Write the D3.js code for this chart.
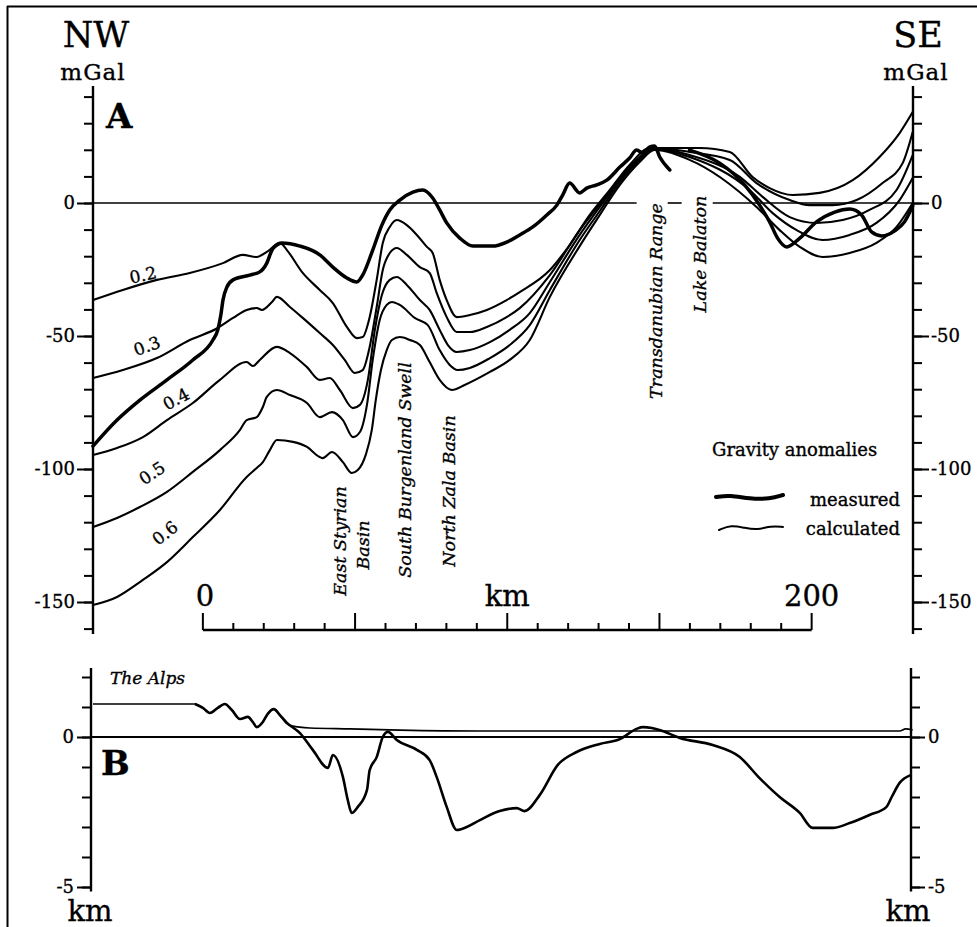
<!DOCTYPE html>
<html><head><meta charset="utf-8">
<script src="https://cdn.jsdelivr.net/npm/d3@7"></script>
<style>
body{margin:0;background:#fff}
svg{display:block}
text{font-family:"DejaVu Serif","Liberation Serif",serif;fill:#000;stroke:#000;stroke-width:0.35px}
</style>
</head><body>
<svg id="c" width="977" height="927"></svg>
<script>
// ---------- DATA (distance km along profile, anomaly mGal / depth km) ----------
const measuredNW = [[-36.1,-91.4],[-28.2,-81.6],[-20.7,-74.1],[-11.8,-66.5],[-3.3,-59.0],[3.3,-51.5],[4.9,-47.7],[5.9,-42.1],[6.6,-36.5],[7.9,-31.6],[9.9,-28.9],[15.4,-27.1],[18.7,-25.9],[21.0,-22.6],[22.7,-17.7],[24.3,-15.8],[25.9,-15.0],[31.9,-16.2],[38.4,-19.5],[42.7,-24.1],[47.3,-28.2],[50.6,-29.7],[52.5,-27.1],[55.8,-17.7],[58.8,-8.3],[61.4,-2.6],[64.7,1.1],[69.0,4.1],[72.2,4.9],[75.5,1.9],[77.8,-2.6],[80.1,-7.5],[84.4,-13.2],[88.7,-16.2],[95.2,-16.2],[99.8,-14.7],[104.1,-12.0],[108.4,-9.0],[113.0,-4.5],[116.3,-0.8],[118.2,3.0],[120.5,7.5],[123.8,3.8],[126.1,5.6],[129.4,6.8],[132.7,8.6],[137.0,13.5],[140.2,16.9],[142.5,19.9],[144.5,18.8],[146.8,21.1],[148.4,21.4],[150.1,17.3],[153.4,12.4]];
const measuredSE = [[159.9,19.9],[169.8,15.0],[178.0,6.8],[182.9,-0.8],[186.2,-7.1],[188.8,-13.2],[191.8,-16.5],[196.1,-13.2],[201.6,-7.1],[207.6,-3.4],[212.5,-2.3],[216.4,-4.5],[219.7,-10.9],[223.0,-12.4],[227.3,-10.5],[230.5,-7.1],[233.2,-1.1]];
const calc02 = [[-36.1,-36.5],[-26.3,-32.7],[-15.1,-28.9],[-4.3,-26.3],[6.6,-22.6],[13.1,-19.5],[17.7,-20.3],[21.0,-18.4],[25.3,-15.0],[27.6,-17.7],[32.8,-26.3],[38.4,-32.7],[42.7,-37.6],[47.3,-46.6],[50.6,-50.8],[52.5,-50.4],[54.8,-42.9],[57.1,-28.9],[59.1,-15.0],[61.4,-9.0],[63.7,-6.4],[67.0,-8.3],[70.3,-12.0],[73.6,-16.5],[75.5,-18.8],[77.8,-28.9],[80.1,-36.5],[83.4,-42.9],[87.7,-42.1],[93.3,-40.2],[99.8,-36.5],[104.1,-33.5],[114.0,-25.2],[120.5,-15.8],[127.1,-4.5],[133.7,4.9],[140.2,14.3],[146.8,20.7],[163.1,20.7],[173.1,19.2],[180.6,9.8],[186.2,5.6],[193.8,3.0],[202.6,3.8],[213.5,8.6],[222.3,17.3],[228.9,26.3],[233.2,34.2]];
const calc03 = [[-36.1,-65.8],[-26.3,-62.8],[-15.1,-58.3],[-4.3,-51.5],[4.9,-47.0],[9.9,-43.2],[14.4,-40.2],[17.7,-39.5],[19.4,-40.2],[22.7,-37.2],[24.3,-35.3],[28.6,-39.1],[32.8,-43.2],[38.4,-48.9],[42.7,-53.4],[46.6,-59.0],[49.9,-63.9],[52.5,-62.8],[54.8,-54.1],[57.1,-39.1],[59.1,-25.2],[61.4,-18.8],[63.7,-16.9],[67.0,-19.5],[71.3,-24.1],[74.5,-26.3],[76.8,-33.8],[80.1,-42.9],[83.4,-48.5],[87.7,-48.5],[93.3,-46.6],[99.8,-42.9],[104.1,-39.5],[114.0,-27.1],[123.8,-10.2],[130.4,-0.4],[137.0,9.4],[143.5,17.3],[148.4,20.7],[159.9,19.2],[173.1,16.2],[181.9,7.5],[192.8,1.1],[199.3,-0.8],[206.9,-0.8],[214.8,1.1],[223.3,7.5],[229.9,15.0],[233.2,26.7]];
const calc04 = [[-36.1,-94.7],[-28.2,-92.1],[-19.7,-88.0],[-11.8,-81.6],[-3.3,-75.2],[5.6,-66.5],[14.4,-59.8],[16.4,-61.3],[18.7,-59.0],[24.3,-54.1],[28.6,-56.4],[34.2,-61.7],[38.4,-66.5],[41.7,-65.8],[45.0,-70.3],[49.3,-77.1],[51.6,-75.9],[54.2,-66.5],[56.5,-47.7],[58.8,-34.6],[61.4,-28.9],[63.7,-27.8],[67.0,-30.8],[71.3,-36.5],[74.5,-40.2],[77.8,-47.7],[80.5,-53.4],[83.4,-56.0],[87.7,-55.3],[94.3,-52.3],[100.8,-47.7],[107.4,-41.4],[114.0,-29.7],[123.8,-12.0],[130.4,-1.5],[137.0,8.6],[143.5,16.9],[148.4,20.7],[159.9,18.0],[176.4,9.8],[183.9,2.3],[192.8,-5.3],[201.6,-7.5],[210.2,-6.4],[219.0,-2.6],[227.9,4.9],[233.2,18.0]];
const calc05 = [[-36.1,-121.8],[-28.2,-118.4],[-20.7,-114.3],[-11.8,-108.6],[-3.3,-101.1],[5.6,-92.9],[12.2,-85.3],[14.4,-81.6],[17.7,-80.5],[19.7,-76.7],[21.0,-72.9],[24.3,-70.3],[28.6,-72.2],[34.2,-75.2],[38.4,-80.5],[42.4,-78.6],[46.0,-81.6],[49.3,-88.0],[51.6,-86.1],[53.9,-75.9],[55.8,-59.0],[58.1,-44.0],[60.4,-38.3],[62.1,-37.2],[64.7,-38.3],[69.6,-43.2],[73.9,-45.9],[77.8,-55.3],[81.1,-60.9],[83.7,-62.8],[87.7,-62.0],[94.3,-58.3],[100.8,-53.4],[107.4,-45.9],[114.0,-32.7],[123.8,-13.9],[130.4,-3.0],[137.0,7.9],[143.5,16.2],[148.4,20.3],[159.9,17.3],[179.6,4.9],[187.2,-3.8],[195.1,-10.2],[203.6,-13.9],[212.5,-12.0],[221.3,-7.5],[228.9,1.1],[233.2,9.4]];
const calc06 = [[-36.1,-151.1],[-28.2,-148.1],[-19.7,-141.7],[-11.8,-135.0],[-3.3,-125.6],[5.6,-115.4],[14.4,-103.0],[17.7,-99.6],[19.7,-97.4],[22.0,-92.9],[24.3,-89.1],[29.6,-89.8],[34.2,-91.7],[38.4,-95.5],[39.4,-95.9],[42.4,-93.6],[46.0,-97.4],[48.9,-101.5],[50.9,-100.4],[53.5,-94.7],[55.5,-85.3],[56.8,-74.1],[58.5,-62.8],[60.4,-55.3],[62.1,-51.5],[64.7,-50.4],[68.0,-51.5],[71.3,-53.4],[74.5,-59.8],[77.8,-66.5],[81.8,-70.3],[86.0,-68.4],[94.3,-63.5],[100.8,-59.0],[107.4,-51.5],[114.0,-35.3],[123.8,-16.2],[130.4,-4.5],[137.0,6.8],[143.5,15.4],[148.4,19.9],[159.9,16.2],[181.9,-1.5],[189.5,-10.2],[196.1,-16.5],[203.6,-20.3],[212.5,-18.8],[221.3,-15.0],[227.9,-9.0],[233.2,0]];
const densityLabels = ["0.2","0.3","0.4","0.5","0.6"];
const zeroLineSegmentsA = [[-36.1,142.5],[152.7,157.3],[167.5,233.2]];
const mGalMajorTicks = [0,-50,-100,-150];
const mGalMinorTicks = [40,30,20,10,0,-10,-20,-30,-40,-50,-60,-70,-80,-90,-100,-110,-120,-130,-140,-150,-160];
const scaleBarTicks = [0,10,20,30,40,50,60,70,80,90,100,110,120,130,140,150,160,170,180,190,200];
const scaleBarMajor = [0,50,100,150,200];
const scaleBarLabels = [[0,"0"],[100,"km"],[200,"200"]];
const topography = [[-36.1,1.10],[-2.6,1.10],[0,0.97],[2.3,0.80],[4.9,0.97],[7.2,1.10],[9.5,0.90],[12.2,0.60],[14.8,0.67],[16.4,0.50],[17.7,0.33],[19.7,0.50],[21.3,0.77],[23.3,0.93],[25.3,0.73],[27.3,0.47],[29.2,0.37],[35.1,0.30],[48.3,0.27],[64.7,0.23],[91.0,0.20],[130.4,0.20],[163.1,0.20],[196.1,0.20],[228.9,0.20],[230.9,0.27],[233.2,0.23]];
const basement = [[-2.6,1.10],[0,0.97],[2.3,0.80],[4.9,0.97],[7.2,1.10],[9.5,0.90],[12.2,0.60],[14.8,0.67],[16.4,0.50],[17.7,0.33],[19.7,0.50],[21.3,0.77],[23.3,0.93],[25.3,0.73],[27.6,0.47],[31.9,0.13],[36.1,-0.43],[41.1,-1.03],[42.7,-0.60],[46.0,-1.33],[47.6,-2.10],[48.9,-2.53],[50.9,-2.33],[53.9,-1.77],[54.8,-1.10],[57.1,-0.67],[59.1,0],[60.8,0.17],[63.7,-0.10],[70.3,-0.43],[74.5,-0.77],[76.8,-1.33],[80.1,-2.33],[83.4,-3.10],[86.7,-3.00],[91.0,-2.77],[97.5,-2.47],[103.1,-2.37],[105.7,-2.47],[110.7,-1.93],[116.6,-0.93],[122.8,-0.50],[130.4,-0.23],[137.0,-0.07],[142.5,0.27],[144.5,0.33],[147.5,0.30],[150.1,0.23],[156.7,-0.03],[167.5,-0.27],[176.4,-0.67],[182.9,-1.37],[189.5,-2.00],[196.1,-2.53],[200.3,-3.03],[206.9,-3.03],[212.5,-2.87],[219.0,-2.60],[224.6,-2.33],[226.3,-2.00],[228.9,-1.53],[232.5,-1.27]];
const depthMajorTicks = [0,-5];
const depthMinorTicks = [2,1,0,-1,-2,-3,-4,-5];
const placeLabels = ["East Styrian","Basin","South Burgenland Swell","North Zala Basin","Transdanubian Range","Lake Balaton"];
const legendLabels = ["Gravity anomalies","measured","calculated"];

// ---------- SCALES ----------
const svg = d3.select("#c");
const x = d3.scaleLinear().domain([-36.1, 233.3]).range([93, 913]);
const yA = d3.scaleLinear().domain([0, -150]).range([203, 602]);
const yB = d3.scaleLinear().domain([0, -5]).range([737, 887]);
const xL = x.range()[0], xR = x.range()[1];

// frame
svg.append("line").attr("x1",7).attr("x2",977).attr("y1",6.5).attr("y2",6.5).attr("stroke","#000").attr("stroke-width",2);
svg.append("line").attr("x1",7.5).attr("x2",7.5).attr("y1",6).attr("y2",927).attr("stroke","#000").attr("stroke-width",2);

// ---------- PANEL A AXES ----------
function styleAxis(g){ g.select(".domain").remove(); g.selectAll("line").attr("stroke","#000").attr("stroke-width",2); g.selectAll("text").attr("font-family","DejaVu Serif, serif").attr("font-size",18).attr("fill","#000"); }
const fmt = d => d < 0 ? "-" + Math.abs(d) : String(d);

[[d3.axisLeft, xL],[d3.axisRight, xR]].forEach(([ax, xp]) => {
  svg.append("g").attr("transform",`translate(${xp},0)`)
    .call(ax(yA).tickValues(mGalMinorTicks).tickSize(9).tickFormat(""))
    .call(styleAxis);
  svg.append("g").attr("transform",`translate(${xp},0)`)
    .call(ax(yA).tickValues(mGalMajorTicks).tickSize(16).tickPadding(2).tickFormat(fmt))
    .call(styleAxis);
  svg.append("line").attr("x1",xp).attr("x2",xp).attr("y1",yA(44)).attr("y2",yA(-162)).attr("stroke","#000").attr("stroke-width",2.4);
});

// zero line A
zeroLineSegmentsA.forEach(s => svg.append("line").attr("x1",x(s[0])).attr("x2",x(s[1])).attr("y1",yA(0)).attr("y2",yA(0)).attr("stroke","#000").attr("stroke-width",1.6));

// ---------- PANEL A CURVES ----------
const lineA = d3.line().x(d=>x(d[0])).y(d=>yA(d[1])).curve(d3.curveMonotoneX);
[calc02,calc03,calc04,calc05,calc06].forEach(s => svg.append("path").attr("d",lineA(s)).attr("fill","none").attr("stroke","#000").attr("stroke-width",2.1).attr("stroke-linejoin","round"));
[measuredNW, measuredSE].forEach(s => svg.append("path").attr("d",lineA(s)).attr("fill","none").attr("stroke","#000").attr("stroke-width",3.5).attr("stroke-linejoin","round").attr("stroke-linecap","round"));

// density labels
const dlPos = [[143,275,-12],[147,346,-20],[176,399,-28],[152,473,-33],[165,533,-38]];
densityLabels.forEach((t,i) => {
  const [px,py,r] = dlPos[i];
  svg.append("text").attr("transform",`translate(${px},${py}) rotate(${r})`).attr("text-anchor","middle").attr("dominant-baseline","central").attr("font-size",17).text(t);
});

// place labels (rotated)
const plPos = [[340,541],[363,545],[405,470],[449,491],[656,301],[700,254]];
placeLabels.forEach((t,i) => {
  const [px,py] = plPos[i];
  svg.append("text").attr("transform",`translate(${px},${py}) rotate(-90)`).attr("text-anchor","middle").attr("dominant-baseline","central").attr("font-size",17.5).attr("font-style","italic").text(t);
});

// titles
svg.append("text").attr("x",96).attr("y",47).attr("text-anchor","middle").attr("font-size",35).text("NW");
svg.append("text").attr("x",93).attr("y",80).attr("text-anchor","middle").attr("font-size",23).attr("letter-spacing",1).text("mGal");
svg.append("text").attr("x",918).attr("y",47).attr("text-anchor","middle").attr("font-size",35).text("SE");
svg.append("text").attr("x",916).attr("y",80).attr("text-anchor","middle").attr("font-size",23).attr("letter-spacing",1).text("mGal");
svg.append("text").attr("x",106).attr("y",128).attr("font-size",34).attr("font-weight","bold").text("A");

// legend
svg.append("text").attr("x",712).attr("y",456).attr("font-size",18).text(legendLabels[0]);
svg.append("text").attr("x",900).attr("y",506).attr("text-anchor","end").attr("font-size",18).text(legendLabels[1]);
svg.append("text").attr("x",900).attr("y",535).attr("text-anchor","end").attr("font-size",18).text(legendLabels[2]);
const wave = d3.line().curve(d3.curveBasis);
svg.append("path").attr("transform","translate(716,497)").attr("d",wave([[0,0],[14,-2],[34,2],[54,2],[67,-2]])).attr("fill","none").attr("stroke","#000").attr("stroke-width",4).attr("stroke-linecap","round");
svg.append("path").attr("transform","translate(719,528)").attr("d",wave([[0,2],[12,-3],[26,0],[38,2],[52,-2],[64,-1]])).attr("fill","none").attr("stroke","#000").attr("stroke-width",2).attr("stroke-linecap","round");

// scale bar
const sbY = 630;
svg.append("line").attr("x1",x(0)).attr("x2",x(200)).attr("y1",sbY).attr("y2",sbY).attr("stroke","#000").attr("stroke-width",2.4);
svg.selectAll(".sbt").data(scaleBarTicks).enter().append("line")
  .attr("x1",d=>x(d)).attr("x2",d=>x(d)).attr("y1",sbY).attr("y2",d=>scaleBarMajor.includes(d)?sbY-17:sbY-7)
  .attr("stroke","#000").attr("stroke-width",2);
scaleBarLabels.forEach(([v,t]) => svg.append("text").attr("x",x(v)+(v===0?2:0)).attr("y",606).attr("text-anchor","middle").attr("font-size",29).text(t));

// ---------- PANEL B ----------
[[d3.axisLeft, xL-2],[d3.axisRight, xR-2]].forEach(([ax, xp]) => {
  svg.append("g").attr("transform",`translate(${xp},0)`)
    .call(ax(yB).tickValues(depthMinorTicks).tickSize(9).tickFormat(""))
    .call(styleAxis);
  svg.append("g").attr("transform",`translate(${xp},0)`)
    .call(ax(yB).tickValues(depthMajorTicks).tickSize(14).tickPadding(3).tickFormat(fmt))
    .call(styleAxis);
  svg.append("line").attr("x1",xp).attr("x2",xp).attr("y1",yB(2.3)).attr("y2",yB(-5.15)).attr("stroke","#000").attr("stroke-width",2.4);
});
svg.append("line").attr("x1",xL-2).attr("x2",xR-2).attr("y1",yB(0)).attr("y2",yB(0)).attr("stroke","#000").attr("stroke-width",2);

const lineB = d3.line().x(d=>x(d[0])).y(d=>yB(d[1])).curve(d3.curveMonotoneX);
svg.append("path").attr("d",lineB(topography)).attr("fill","none").attr("stroke","#000").attr("stroke-width",1.6);
svg.append("path").attr("d",lineB(basement)).attr("fill","none").attr("stroke","#000").attr("stroke-width",2.6).attr("stroke-linejoin","round");

svg.append("text").attr("x",101).attr("y",775).attr("font-size",34).attr("font-weight","bold").text("B");
svg.append("text").attr("x",110).attr("y",684).attr("font-size",17).attr("font-style","italic").text("The Alps");
svg.append("text").attr("x",90).attr("y",921).attr("text-anchor","middle").attr("font-size",29).text("km");
svg.append("text").attr("x",908).attr("y",921).attr("text-anchor","middle").attr("font-size",29).text("km");
</script>
</body></html>
